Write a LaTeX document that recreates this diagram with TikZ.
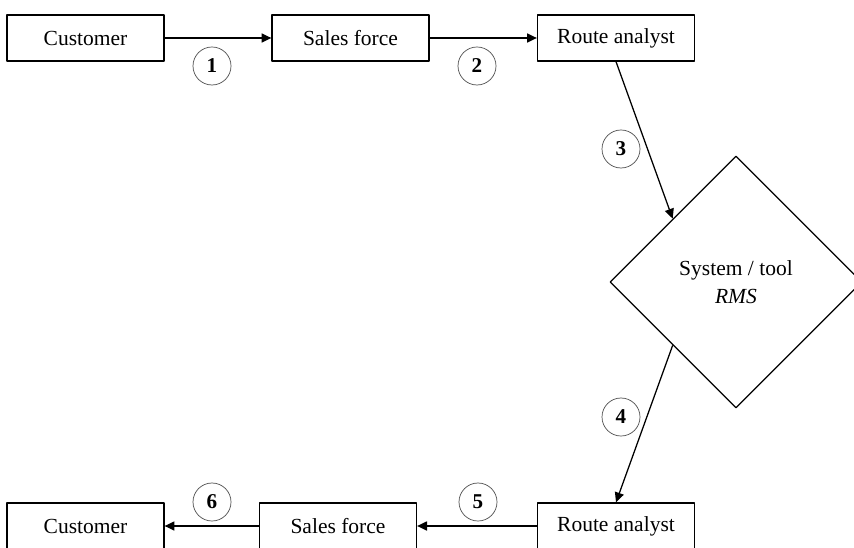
\documentclass[tikz,border=0pt]{standalone}
\usepackage{fontspec}
\setmainfont{Liberation Serif}
\usetikzlibrary{arrows.meta,shapes.geometric}
\begin{document}
\begin{tikzpicture}[x=0.025cm,y=0.025cm,line join=round,
    >={Triangle[length=7pt,width=6.5pt]},
    box/.style={draw,line width=0.9pt,minimum width=3.925cm,minimum height=1.15cm,inner sep=0pt,font=\fontsize{15.3}{18}\selectfont},
    tool/.style={draw,diamond,line width=0.9pt,minimum size=6.3cm,inner sep=0pt,align=center,font=\fontsize{15.3}{20}\selectfont},
    num/.style={draw=black!70,circle,line width=0.5pt,minimum size=0.95cm,inner sep=0pt,font=\fontsize{15}{17}\selectfont\bfseries},
    flow/.style={->,line width=0.9pt}]
    \clip (0,0) rectangle (854,547);
    % top row
    \node[box] (cust1) at (85.5,509) {Customer};
    \node[box] (sales1) at (350.5,509) {Sales force};
    \node[box] (route1) at (616,509) {Route analyst};
    % system
    \node[tool] (rms) at (736,265) {System / tool\\\textit{RMS}};
    % bottom row
    \node[box] (route2) at (616,21) {Route analyst};
    \node[box] (sales2) at (338,21) {Sales force};
    \node[box] (cust2) at (85.5,21) {Customer};
    % steps
    \node[num] (s1) at (212,481) {1};
    \node[num] (s2) at (477,481) {2};
    \node[num] (s3) at (621,398) {3};
    \node[num] (s4) at (621,130) {4};
    \node[num] (s5) at (478,45) {5};
    \node[num] (s6) at (212,45) {6};
    \draw[flow] (cust1.east)--(sales1.west);
    \draw[flow] (sales1.east)--(route1.west);
    \draw[flow] (route1.south)--(rms.north west);
    \draw[flow] (rms.south west)--(route2.north);
    \draw[flow] (route2.west)--(sales2.east);
    \draw[flow] (sales2.west)--(cust2.east);
\end{tikzpicture}
\end{document}
